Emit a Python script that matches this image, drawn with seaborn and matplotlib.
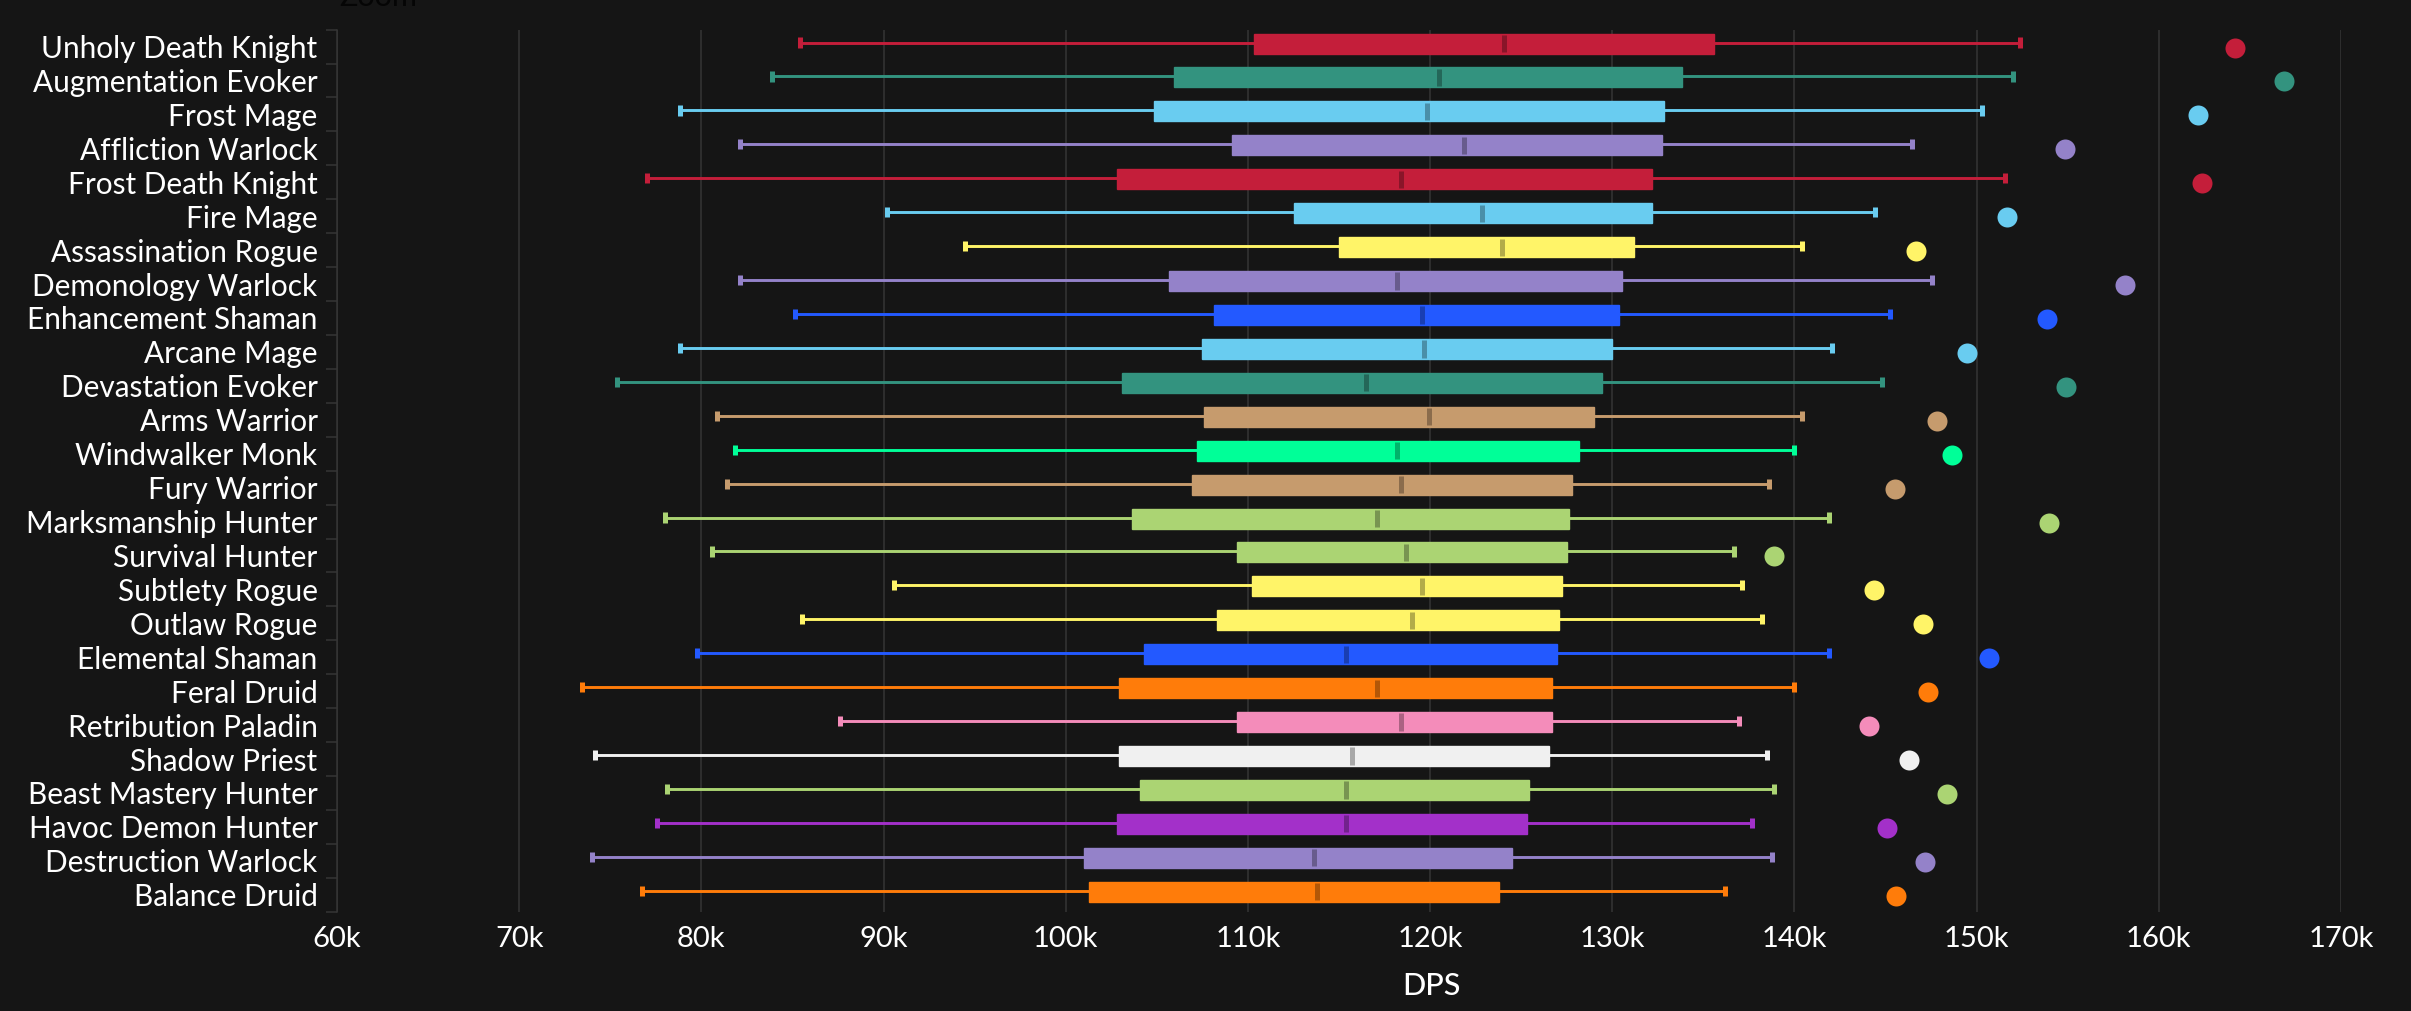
"""
DPS box plot per spec, dark theme, highest single sample as a dot.
"""
import matplotlib.pyplot as plt
import numpy as np
import pandas as pd
import seaborn as sns
from matplotlib.colors import to_rgb
from matplotlib.transforms import ScaledTranslation

specs = [
    "Unholy Death Knight", "Augmentation Evoker", "Frost Mage", "Affliction Warlock",
    "Frost Death Knight", "Fire Mage", "Assassination Rogue", "Demonology Warlock",
    "Enhancement Shaman", "Arcane Mage", "Devastation Evoker", "Arms Warrior",
    "Windwalker Monk", "Fury Warrior", "Marksmanship Hunter", "Survival Hunter",
    "Subtlety Rogue", "Outlaw Rogue", "Elemental Shaman", "Feral Druid",
    "Retribution Paladin", "Shadow Priest", "Beast Mastery Hunter", "Havoc Demon Hunter",
    "Destruction Warlock", "Balance Druid",
]
# all in thousands of DPS
low = [85.4, 83.89, 78.82, 82.11, 77.04, 90.2, 94.45, 82.11, 85.13, 78.82, 75.39, 80.88, 81.84,
       81.43, 78.0, 80.6, 90.6, 85.54, 79.78, 73.47, 87.6, 74.16, 78.14, 77.59, 74.02, 76.76]
q1 = [110.36, 105.97, 104.87, 109.12, 102.81, 112.55, 115.0, 105.69, 108.16, 107.47, 103.09, 107.61, 107.2,
      106.93, 103.64, 109.4, 110.2, 108.3, 104.32, 102.95, 109.4, 102.95, 104.05, 102.81, 101.03, 101.3]
median = [124.07, 120.49, 119.81, 121.87, 118.43, 122.83, 123.93, 118.16, 119.53, 119.67, 116.5, 119.95, 118.16,
          118.43, 117.06, 118.7, 119.53, 119.0, 115.41, 117.06, 118.43, 115.69, 115.41, 115.41, 113.64, 113.78]
q3 = [135.6, 133.82, 132.86, 132.72, 132.17, 132.17, 131.2, 130.52, 130.38, 129.97, 129.42, 129.01, 128.19,
      127.77, 127.64, 127.5, 127.23, 127.1, 126.95, 126.68, 126.68, 126.54, 125.44, 125.3, 124.48, 123.79]
high = [152.4, 152.0, 150.3, 146.45, 151.54, 144.4, 140.41, 147.55, 145.23, 142.06, 144.81, 140.41, 139.95,
        138.63, 141.92, 136.7, 137.12, 138.2, 141.92, 140.0, 136.98, 138.5, 138.9, 137.67, 138.76, 136.2]
best = [164.2, 166.85, 162.17, 154.85, 162.37, 151.68, 146.65, 158.16, 153.87, 149.45, 154.89, 147.8, 148.65,
        145.52, 153.98, 138.9, 144.37, 147.06, 150.7, 147.34, 144.09, 146.26, 148.38, 145.1, 147.17, 145.57]
colors = [
    "#C41E3A", "#33937F", "#69CCF0", "#9482C9", "#C41E3A", "#69CCF0", "#FFF468", "#9482C9",
    "#2359FF", "#69CCF0", "#33937F", "#C69B6D", "#00FF98", "#C69B6D", "#ABD473", "#ABD473",
    "#FFF468", "#FFF468", "#2359FF", "#FF7C0A", "#F48CBA", "#F0F0F0", "#ABD473", "#A330C9",
    "#9482C9", "#FF7C0A",
]
xticks = [60, 70, 80, 90, 100, 110, 120, 130, 140, 150, 160, 170]
xticklabels = ["60k", "70k", "80k", "90k", "100k", "110k", "120k", "130k", "140k", "150k", "160k", "170k"]

BG = "#151515"
GRID = "#353535"
W, H = 2411, 1011


def shift(artist, fig, px):
    # nudge an artist vertically, in output pixels (positive is up)
    artist.set_transform(
        artist.get_transform() + ScaledTranslation(0, px / 100, fig.dpi_scale_trans)
    )


sns.set_theme(style="dark")
plt.rcParams["font.family"] = ["Lato", "DejaVu Sans"]

fig = plt.figure(figsize=(W / 100, H / 100), dpi=100, facecolor=BG)
ax = fig.add_axes([337 / W, 1 - 911.7 / H, (2341 - 337) / W, (911.7 - 29.6) / H], facecolor=BG)
palette = dict(zip(specs, colors))

df = pd.DataFrame(
    {"spec": np.repeat(specs, 5), "dps": np.column_stack([low, q1, median, q3, high]).ravel()}
)
sns.boxplot(
    data=df, x="dps", y="spec", hue="spec", order=specs, hue_order=specs, palette=palette,
    whis=(0, 100), width=0.59, linewidth=1, fliersize=0, legend=False, capwidths=0.3,
    saturation=1, ax=ax,
)
for name, box in zip(specs, ax.containers):
    color = palette[name]
    dark = tuple(c * 0.7 for c in to_rgb(color))
    for patch in box.boxes:
        patch.set_edgecolor(color)
        shift(patch, fig, 3)
    for line in box.whiskers:
        line.set_color(color)
        line.set_linewidth(2.1)
        shift(line, fig, 4)
    for line in box.caps:
        line.set_color(color)
        line.set_linewidth(3.6)
        line.set_solid_capstyle("butt")
        shift(line, fig, 4)
    for line in box.medians:
        ys = line.get_ydata()
        line.set_ydata(np.mean(ys) + (np.asarray(ys) - np.mean(ys)) * 0.86)
        line.set_color(dark)
        line.set_linewidth(3.6)
        line.set_solid_capstyle("butt")
        shift(line, fig, 3)

sns.stripplot(
    x=best, y=specs, hue=specs, order=specs, hue_order=specs, palette=palette,
    jitter=False, size=14.4, linewidth=0, legend=False, ax=ax,
)
for points in ax.collections:
    points.set_offset_transform(
        points.get_offset_transform() + ScaledTranslation(0, -1 / 100, fig.dpi_scale_trans)
    )

ax.set_xlim(60, 170)
ax.set_ylim(25.5, -0.5)
ax.set_xticks(xticks, xticklabels)
ax.set_yticks(np.arange(len(specs)), specs)
ax.set_yticks(np.arange(len(specs) + 1) - 0.5, minor=True)
ax.tick_params(axis="x", length=0, pad=10, labelsize=21, labelcolor="white")
ax.tick_params(axis="y", which="major", length=0, pad=14, labelsize=21.4, labelcolor="white")
ax.tick_params(axis="y", which="minor", left=True, length=8, width=1.1, color=GRID)
ax.grid(axis="x", color=GRID, linewidth=1.1)
ax.grid(axis="y", visible=False)
ax.set_axisbelow(True)
for side in ["top", "right", "bottom"]:
    ax.spines[side].set_visible(False)
ax.spines["left"].set_color(GRID)
ax.spines["left"].set_linewidth(1.1)
ax.set_ylabel("")
ax.set_xlabel("DPS", color="white", fontsize=22, fontweight="medium")
ax.xaxis.set_label_coords((1431.5 - 337) / (2341 - 337), -0.068)

# the "Zoom" caption sits mostly above the top edge of the picture
fig.text(339 / W, 1 - 6 / H, "Zoom", color="#050505", fontsize=22, va="baseline")

fig.savefig("out.png", dpi=100, facecolor=BG)
